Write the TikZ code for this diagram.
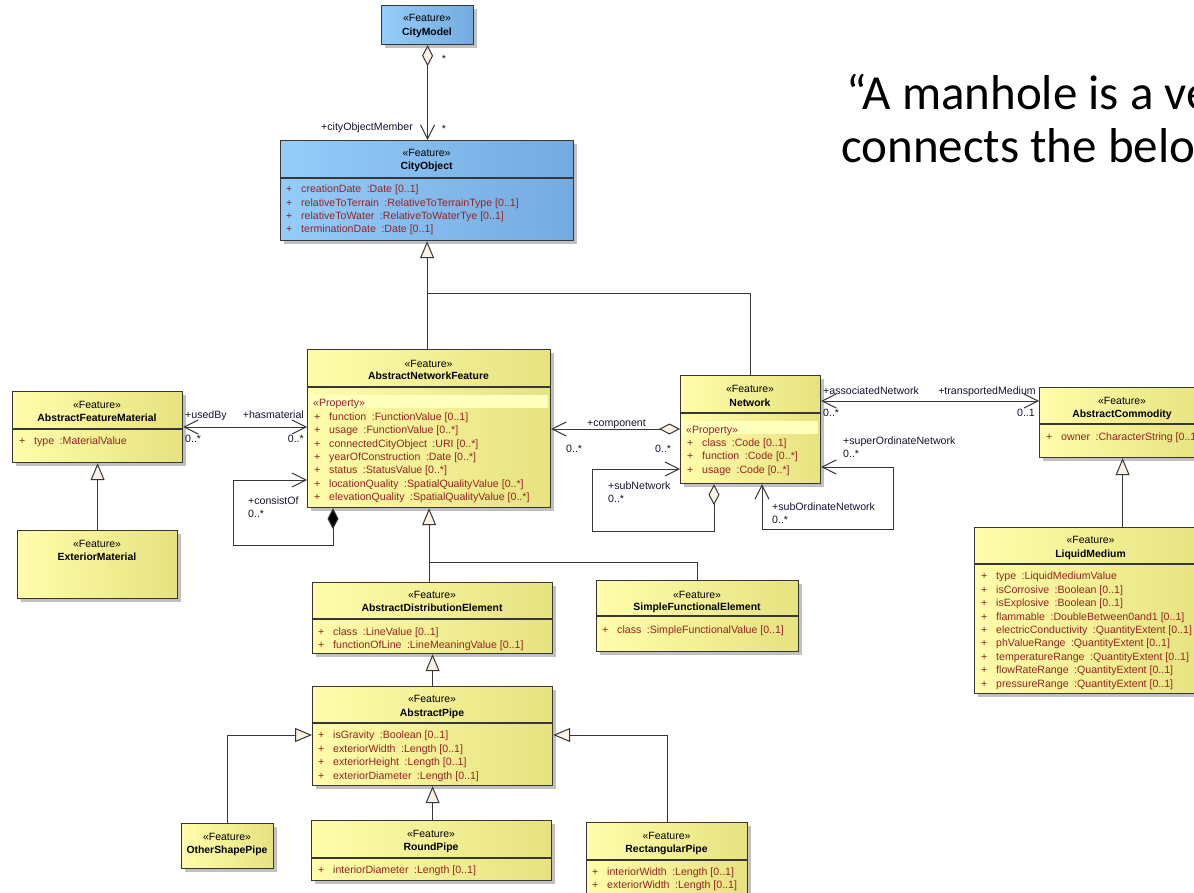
\documentclass[tikz,border=0pt]{standalone}
\usepackage{fontspec}
\setmainfont{Liberation Sans}
\newfontfamily\calib{Carlito}
\usetikzlibrary{arrows.meta,shadows,calc}
\definecolor{ylL}{RGB}{255,253,170}
\definecolor{ylR}{RGB}{230,226,128}
\definecolor{blL}{RGB}{148,204,250}
\definecolor{blR}{RGB}{116,170,224}
\definecolor{bordc}{RGB}{55,55,55}
\definecolor{attrc}{RGB}{150,35,35}
\definecolor{lblc}{RGB}{20,20,50}
\definecolor{beig}{RGB}{250,242,228}
\definecolor{bandc}{RGB}{255,255,190}
\definecolor{shad}{RGB}{192,192,192}
\newcommand{\plusc}{\makebox[15pt][l]{+}}
\newcommand{\typsep}{\hspace{5.5pt}:}
\newcommand{\umlatt}[4]{\node[attr] (#1) at (#2,#3) {\plusc #4};}
\tikzset{
  ybox/.style={draw=bordc, line width=1.2pt, left color=ylL, right color=ylR,
    anchor=north west, inner sep=0pt,
    drop shadow={shadow xshift=3pt, shadow yshift=-3pt, fill=shad, opacity=1}},
  bbox/.style={ybox, left color=blL, right color=blR},
  stereo/.style={font=\fontsize{10.5pt}{12pt}\selectfont, text=black, anchor=base, inner sep=0pt},
  cname/.style={font=\fontsize{10.4pt}{12pt}\selectfont\bfseries, text=black, anchor=base, inner sep=0pt},
  attr/.style={font=\fontsize{10.6pt}{12pt}\selectfont, text=attrc, anchor=base west, inner sep=0pt},
  lbl/.style={font=\fontsize{10.6pt}{12pt}\selectfont, text=lblc, anchor=base west, inner sep=0pt},
  lble/.style={lbl, anchor=base east},
  divl/.style={draw=bordc, line width=1.2pt},
  conn/.style={draw=bordc, line width=1pt},
  nav/.style={-{Straight Barb[length=14pt,width=14pt]}},
  navboth/.style={{Straight Barb[length=14pt,width=14pt]}-{Straight Barb[length=14pt,width=14pt]}},
  gen/.style={-{Triangle[length=17pt,width=14pt,fill=beig]}},
  aggnav/.style={{Diamond[length=21pt,width=11pt,fill=beig]}-{Straight Barb[length=14pt,width=14pt]}},
  compnav/.style={{Diamond[length=21pt,width=11pt,fill=black]}-{Straight Barb[length=14pt,width=14pt]}},
  slide/.style={anchor=base west, inner sep=0pt, font=\calib\fontsize{49pt}{55pt}\selectfont},
}
\begin{document}
\begin{tikzpicture}[x=1pt,y=-1pt]
\useasboundingbox (0,0) rectangle (1194,893);
\clip (0,0) rectangle (1194,893);
\fill[white] (0,0) rectangle (1194,893);

% ---------------- boxes ----------------
\node[bbox, minimum width=92pt, minimum height=39pt] (cm) at (381,5) {};
\node[bbox, minimum width=293pt, minimum height=100pt] (co) at (280,140) {};
\node[ybox, minimum width=243pt, minimum height=158pt] (anf) at (307,349) {};
\node[ybox, minimum width=170pt, minimum height=71pt] (afm) at (12,391) {};
\node[ybox, minimum width=160pt, minimum height=68pt] (em) at (17,530) {};
\node[ybox, minimum width=140pt, minimum height=108pt] (net) at (680,375) {};
\node[ybox, minimum width=166pt, minimum height=70pt] (ac) at (1039,387) {};
\node[ybox, minimum width=233pt, minimum height=166pt] (lm) at (974,527) {};
\node[ybox, minimum width=240pt, minimum height=71pt] (ade) at (312,582) {};
\node[ybox, minimum width=202pt, minimum height=71pt] (sfe) at (596,580) {};
\node[ybox, minimum width=240pt, minimum height=99pt] (ap) at (312,686) {};
\node[ybox, minimum width=92pt, minimum height=45pt] (osp) at (181,823) {};
\node[ybox, minimum width=240pt, minimum height=60pt] (rp) at (311,820) {};
\node[ybox, minimum width=161pt, minimum height=95pt] (rectp) at (586,822) {};

% dividers
\draw[divl] (280,178) -- (573,178);
\draw[divl] (307,387) -- (550,387);
\draw[divl] (12,429) -- (182,429);
\draw[divl] (680,413) -- (820,413);
\draw[divl] (1039,424) -- (1205,424);
\draw[divl] (974,564) -- (1207,564);
\draw[divl] (312,619) -- (552,619);
\draw[divl] (596,616) -- (798,616);
\draw[divl] (312,723) -- (552,723);
\draw[divl] (311,858) -- (551,858);
\draw[divl] (586,860) -- (747,860);

% property bands
\fill[bandc] (309.5,395) rectangle (548,408);
\fill[bandc] (682,421) rectangle (818,434);

% ---------------- box texts ----------------
\node[stereo] (cm-s) at (427,22) {«Feature»};
\node[cname] (cm-n) at (427,36) {CityModel};

\node[stereo] (co-s) at (426.5,157) {«Feature»};
\node[cname] (co-n) at (426.5,170) {CityObject};
\umlatt{co-a1}{286}{193}{creationDate\typsep Date [0..1]}
\umlatt{co-a2}{286}{207}{relativeToTerrain\typsep RelativeToTerrainType [0..1]}
\umlatt{co-a3}{286}{220}{relativeToWater\typsep RelativeToWaterTye [0..1]}
\umlatt{co-a4}{286}{233}{terminationDate\typsep Date [0..1]}

\node[stereo] (anf-s) at (428.5,367) {«Feature»};
\node[cname] (anf-n) at (428.5,379) {AbstractNetworkFeature};
\node[attr] (anf-p) at (313,406) {«Property»};
\umlatt{anf-a1}{314}{420}{function\typsep FunctionValue [0..1]}
\umlatt{anf-a2}{314}{433}{usage\typsep FunctionValue [0..*]}
\umlatt{anf-a3}{314}{447}{connectedCityObject\typsep URI [0..*]}
\umlatt{anf-a4}{314}{460}{yearOfConstruction\typsep Date [0..*]}
\umlatt{anf-a5}{314}{473}{status\typsep StatusValue [0..*]}
\umlatt{anf-a6}{314}{487}{locationQuality\typsep SpatialQualityValue [0..*]}
\umlatt{anf-a7}{314}{500}{elevationQuality\typsep SpatialQualityValue [0..*]}

\node[stereo] (afm-s) at (97,408) {«Feature»};
\node[cname] (afm-n) at (97,421) {AbstractFeatureMaterial};
\umlatt{afm-a1}{19}{444}{type\typsep MaterialValue}

\node[stereo] (em-s) at (97,547) {«Feature»};
\node[cname] (em-n) at (97,560) {ExteriorMaterial};

\node[stereo] (net-s) at (750,392) {«Feature»};
\node[cname] (net-n) at (750,406) {Network};
\node[attr] (net-p) at (686,433) {«Property»};
\umlatt{net-a1}{687}{446}{class\typsep Code [0..1]}
\umlatt{net-a2}{687}{459}{function\typsep Code [0..*]}
\umlatt{net-a3}{687}{473}{usage\typsep Code [0..*]}

\node[stereo] (ac-s) at (1122,404) {«Feature»};
\node[cname] (ac-n) at (1122,417) {AbstractCommodity};
\umlatt{ac-a1}{1046}{440}{owner\typsep CharacterString [0..1]}

\node[stereo] (lm-s) at (1090.5,543) {«Feature»};
\node[cname] (lm-n) at (1090.5,557) {LiquidMedium};
\umlatt{lm-a1}{981}{579}{type\typsep LiquidMediumValue}
\umlatt{lm-a2}{981}{593}{isCorrosive\typsep Boolean [0..1]}
\umlatt{lm-a3}{981}{606}{isExplosive\typsep Boolean [0..1]}
\umlatt{lm-a4}{981}{620}{flammable\typsep DoubleBetween0and1 [0..1]}
\umlatt{lm-a5}{981}{633}{electricConductivity\typsep QuantityExtent [0..1]}
\umlatt{lm-a6}{981}{646}{phValueRange\typsep QuantityExtent [0..1]}
\umlatt{lm-a7}{981}{660}{temperatureRange\typsep QuantityExtent [0..1]}
\umlatt{lm-a8}{981}{673}{flowRateRange\typsep QuantityExtent [0..1]}
\umlatt{lm-a9}{981}{687}{pressureRange\typsep QuantityExtent [0..1]}

\node[stereo] (ade-s) at (432,598) {«Feature»};
\node[cname] (ade-n) at (432,611) {AbstractDistributionElement};
\umlatt{ade-a1}{318}{635}{class\typsep LineValue [0..1]}
\umlatt{ade-a2}{318}{648}{functionOfLine\typsep LineMeaningValue [0..1]}

\node[stereo] (sfe-s) at (697,598) {«Feature»};
\node[cname] (sfe-n) at (697,610) {SimpleFunctionalElement};
\umlatt{sfe-a1}{602}{633}{class\typsep SimpleFunctionalValue [0..1]}

\node[stereo] (ap-s) at (432,702) {«Feature»};
\node[cname] (ap-n) at (432,716) {AbstractPipe};
\umlatt{ap-a1}{318}{738}{isGravity\typsep Boolean [0..1]}
\umlatt{ap-a2}{318}{752}{exteriorWidth\typsep Length [0..1]}
\umlatt{ap-a3}{318}{765}{exteriorHeight\typsep Length [0..1]}
\umlatt{ap-a4}{318}{779}{exteriorDiameter\typsep Length [0..1]}

\node[stereo] (osp-s) at (227,840) {«Feature»};
\node[cname] (osp-n) at (227,853) {OtherShapePipe};

\node[stereo] (rp-s) at (431,837) {«Feature»};
\node[cname] (rp-n) at (431,850) {RoundPipe};
\umlatt{rp-a1}{318}{873}{interiorDiameter\typsep Length [0..1]}

\node[stereo] (rectp-s) at (666.5,839) {«Feature»};
\node[cname] (rectp-n) at (666.5,852) {RectangularPipe};
\umlatt{rectp-a1}{592}{875}{interiorWidth\typsep Length [0..1]}
\umlatt{rectp-a2}{592}{888}{exteriorWidth\typsep Length [0..1]}

% ---------------- connectors ----------------
% CityModel - CityObject
\draw[conn, aggnav] (cm.south) -- (cm.south |- co.north);
\node[lbl, anchor=base] (l-cm1) at (444,63) {*};
\node[lble] (l-com) at (413,131) {+cityObjectMember};
\node[lbl, anchor=base] (l-cm2) at (444,133) {*};

% generalisations to CityObject
\coordinate (jco) at ($(co.south)+(0,52)$);
\draw[conn, gen] (anf.north -| co.south) -- (co.south);
\draw[conn] (net.north) |- (jco);

% AbstractFeatureMaterial - AbstractNetworkFeature
\draw[conn, navboth] (afm.east |- 0,427) -- (anf.west |- 0,427);
\node[lbl] (l-ub) at (185,418) {+usedBy};
\node[lble] (l-hm) at (304,418) {+hasmaterial};
\node[lbl] (l-ub2) at (185,442) {0..*};
\node[lble] (l-hm2) at (304,442) {0..*};

% ExteriorMaterial -> AbstractFeatureMaterial
\draw[conn, gen] (em.north -| afm.south) -- (afm.south);

% consistOf
\draw[conn, compnav] (anf.south -| 333,0) -- (333,545) -- (233,545) -- (233,480) -- (anf.west |- 0,480);
\node[lbl] (l-co) at (248,504) {+consistOf};
\node[lbl] (l-co2) at (248,517) {0..*};

% component
\draw[conn, aggnav] (net.west |- 0,429) -- (anf.east |- 0,429);
\node[lbl] (l-cp) at (587,426) {+component};
\node[lbl] (l-cp2) at (566,452) {0..*};
\node[lbl] (l-cp3) at (655,452) {0..*};

% subNetwork
\draw[conn, aggnav] (net.south -| 714,0) -- (714,531) -- (592,531) -- (592,469) -- (net.west |- 0,469);
\node[lbl] (l-sn) at (608,489) {+subNetwork};
\node[lbl] (l-sn2) at (608,502) {0..*};

% super / sub ordinate
\draw[conn, navboth] (net.east |- 0,467) -- (893,467) -- (893,529) -- (762,529) -- (net.south -| 762,0);
\node[lbl] (l-sup) at (843,444) {+superOrdinateNetwork};
\node[lbl] (l-sup2) at (843,457) {0..*};
\node[lbl] (l-sub) at (772,510) {+subOrdinateNetwork};
\node[lbl] (l-sub2) at (772,523) {0..*};

% Network - AbstractCommodity
\draw[conn, navboth] (net.east |- 0,401) -- (ac.west |- 0,401);
\node[lbl] (l-an) at (823,394) {+associatedNetwork};
\node[lble] (l-tm) at (1036,394) {+transportedMedium};
\node[lbl] (l-an2) at (823,416) {0..*};
\node[lble] (l-tm2) at (1035,416) {0..1};

% LiquidMedium -> AbstractCommodity
\draw[conn, gen] (lm.north -| ac.south) -- (ac.south);

% distribution elements -> AbstractNetworkFeature
\coordinate (jde) at ($(anf.south)+(0,54)$);
\draw[conn, gen] (ade.north -| anf.south) -- (anf.south);
\draw[conn] (sfe.north) |- (jde);

% AbstractPipe -> AbstractDistributionElement
\draw[conn, gen] (ap.north) -- (ade.south);

% pipes -> AbstractPipe
\draw[conn, gen] (osp.north) |- (ap.west |- 0,735);
\draw[conn, gen] (rp.north -| ap.south) -- (ap.south);
\draw[conn, gen] (rectp.north) |- (ap.east |- 0,735);

% ---------------- slide text ----------------
\node[slide] (q1) at (846,110) {“A manhole is a ve};
\node[slide] (q2) at (841,163) {connects the belo};
\end{tikzpicture}
\end{document}
